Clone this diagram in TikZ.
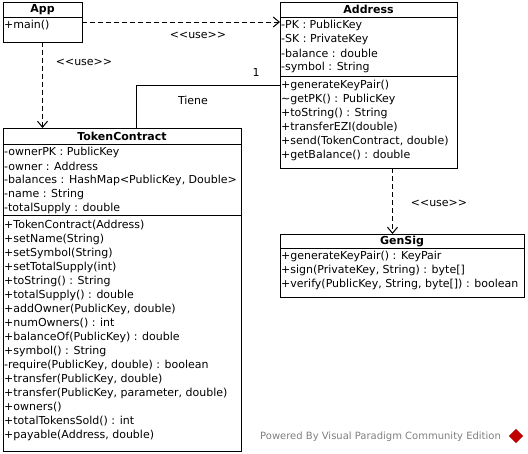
\documentclass[tikz,border=0pt]{standalone}
\usepackage{fontspec}
\setmainfont{DejaVu Sans}
\usetikzlibrary{arrows.meta}
\newcommand{\usestereo}{<\kern0pt<use>\kern0pt>}
\begin{document}
\begin{tikzpicture}[x=1pt,y=-1pt,
  classbox/.style={draw, line width=1pt, anchor=north west, inner sep=0pt, outer sep=0pt},
  sep/.style={line width=1pt},
  row/.style={anchor=west, inner sep=0pt, font=\fontsize{11}{13}\selectfont},
  head/.style={anchor=center, inner sep=0pt, font=\fontsize{11}{13}\selectfont\bfseries},
  usedep/.style={line width=1pt, dash pattern=on 5pt off 3pt, -{Straight Barb[length=6pt,width=10pt,line width=1pt]}},
  assoc/.style={line width=1pt},
  lbl/.style={inner sep=0pt, font=\fontsize{11}{13}\selectfont}]
\useasboundingbox[fill=white] (0,0) rectangle (528,453);

% ---------- App ----------
\node[classbox, minimum width=79pt, minimum height=40pt] (app) at (3,2) {};
\draw[sep] (3,17) -- (82,17);
\node[head] (apph) at (42.5,10) {App};
\node[row] (appm1) at (4,25) {+main()};

% ---------- Address ----------
\node[classbox, minimum width=177pt, minimum height=166pt] (address) at (280,2) {};
\draw[sep] (280,17) -- (457,17);
\draw[sep] (280,76) -- (457,76);
\node[head] (addrh) at (368.5,9.5) {Address};
\node[row] (addra1) at (281,25) {-PK : PublicKey};
\node[row] (addra2) at (281,39) {-SK : PrivateKey};
\node[row] (addra3) at (281,53) {-balance : double};
\node[row] (addra4) at (281,67) {-symbol : String};
\node[row] (addrm1) at (281,85) {+generateKeyPair()};
\node[row] (addrm2) at (281,99) {\char"007E getPK() : PublicKey};
\node[row] (addrm3) at (281,113) {+toString() : String};
\node[row] (addrm4) at (281,127) {+transferEZI(double)};
\node[row] (addrm5) at (281,141) {+send(TokenContract, double)};
\node[row] (addrm6) at (281,155) {+getBalance() : double};

% ---------- TokenContract ----------
\node[classbox, minimum width=238pt, minimum height=323pt] (tc) at (3,128) {};
\draw[sep] (3,144) -- (241,144);
\draw[sep] (3,215) -- (241,215);
\node[head] (tch) at (122,136.5) {TokenContract};
\node[row] (tca1) at (4,152) {-ownerPK : PublicKey};
\node[row] (tca2) at (4,166) {-owner : Address};
\node[row] (tca3) at (4,180) {-balances : HashMap<PublicKey, Double>};
\node[row] (tca4) at (4,194) {-name : String};
\node[row] (tca5) at (4,208) {-totalSupply : double};
\node[row] (tcm1) at (4,225) {+TokenContract(Address)};
\node[row] (tcm2) at (4,239) {+setName(String)};
\node[row] (tcm3) at (4,253) {+setSymbol(String)};
\node[row] (tcm4) at (4,267) {+setTotalSupply(int)};
\node[row] (tcm5) at (4,281) {+toString() : String};
\node[row] (tcm6) at (4,295) {+totalSupply() : double};
\node[row] (tcm7) at (4,309) {+addOwner(PublicKey, double)};
\node[row] (tcm8) at (4,323) {+numOwners() : int};
\node[row] (tcm9) at (4,337) {+balanceOf(PublicKey) : double};
\node[row] (tcm10) at (4,351) {+symbol() : String};
\node[row] (tcm11) at (4,365) {-require(PublicKey, double) : boolean};
\node[row] (tcm12) at (4,379) {+transfer(PublicKey, double)};
\node[row] (tcm13) at (4,393) {+transfer(PublicKey, parameter, double)};
\node[row] (tcm14) at (4,407) {+owners()};
\node[row] (tcm15) at (4,421) {+totalTokensSold() : int};
\node[row] (tcm16) at (4,435) {+payable(Address, double)};

% ---------- GenSig ----------
\node[classbox, minimum width=244pt, minimum height=63pt] (gensig) at (280,234) {};
\draw[sep] (280,248) -- (524,248);
\node[head] (gsh) at (402,241.5) {GenSig};
\node[row] (gsm1) at (281,256.5) {+generateKeyPair() : KeyPair};
\node[row] (gsm2) at (281,270) {+sign(PrivateKey, String) : byte[]};
\node[row] (gsm3) at (281,284) {+verify(PublicKey, String, byte[]) : boolean};

% ---------- connectors ----------
\draw[usedep] (app.east) -- (address.west |- app.east);
\node[lbl] (use1) at (198,35) {\usestereo};

\draw[usedep] (app.south) -- (tc.north -| app.south);
\node[lbl] (use2) at (84,62) {\usestereo};

\coordinate (addrdep) at ([xshift=24pt]address.south);
\draw[usedep] (addrdep) -- (gensig.north -| addrdep);
\node[lbl] (use3) at (439,203) {\usestereo};

\draw[assoc] ([xshift=14pt]tc.north) |- (address.west);
\node[lbl] (mult1) at (256,72) {1};
\node[lbl] (tiene) at (193,100) {Tiene};

% ---------- footer ----------
\node[anchor=west, inner sep=0pt, text=black!50, font=\fontsize{10}{12}\selectfont] (footer) at (260,437) {Powered By Visual Paradigm Community Edition};
\node[fill=red!75!black, rotate=45, minimum size=10pt, inner sep=0pt] (vplogo) at (516,436) {};
\end{tikzpicture}
\end{document}
